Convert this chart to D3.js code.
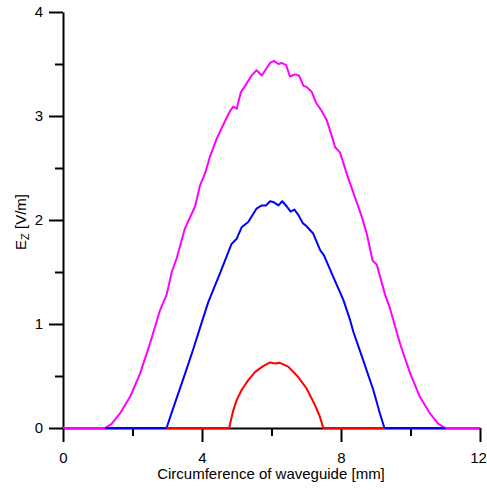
<!DOCTYPE html>
<html>
<head>
<meta charset="utf-8">
<script src="https://cdn.jsdelivr.net/npm/d3@7"></script>
<style>
  html, body { margin: 0; padding: 0; background: #fff; }
  svg { display: block; font-family: "Liberation Sans", Arial, sans-serif; }
</style>
</head>
<body>
<svg id="chart" width="487" height="490"></svg>
<script>
// ---- data ----
const magentaX = [0, 1.21, 1.40, 1.64, 1.93, 2.22, 2.50, 2.79, 2.98, 3.13, 3.27, 3.51, 3.80, 3.94, 4.09, 4.23, 4.42, 4.66, 4.81, 4.90, 5.00, 5.12, 5.24, 5.43, 5.57, 5.72, 5.96, 6.07, 6.20, 6.29, 6.42, 6.53, 6.68, 6.79, 6.92, 7.01, 7.16, 7.28, 7.44, 7.59, 7.76, 7.83, 7.97, 8.21, 8.40, 8.60, 8.74, 8.91, 9.03, 9.27, 9.41, 9.70, 9.99, 10.27, 10.56, 10.80, 11.0, 12];
const magentaY = [0, 0, 0.04, 0.14, 0.30, 0.525, 0.81, 1.13, 1.28, 1.50, 1.63, 1.92, 2.13, 2.33, 2.45, 2.61, 2.78, 2.95, 3.05, 3.09, 3.07, 3.23, 3.29, 3.39, 3.44, 3.39, 3.51, 3.53, 3.50, 3.51, 3.49, 3.38, 3.40, 3.39, 3.29, 3.28, 3.23, 3.13, 3.05, 2.96, 2.78, 2.70, 2.65, 2.40, 2.22, 2.03, 1.87, 1.61, 1.57, 1.28, 1.15, 0.81, 0.525, 0.30, 0.14, 0.04, 0, 0];

const blueX = [1.21, 2.98, 3.13, 3.51, 3.75, 3.94, 4.18, 4.52, 4.85, 5.00, 5.14, 5.33, 5.57, 5.72, 5.84, 5.96, 6.07, 6.20, 6.31, 6.44, 6.55, 6.66, 6.77, 6.90, 7.01, 7.20, 7.40, 7.51, 7.73, 8.07, 8.26, 8.35, 8.64, 8.93, 9.12, 9.25, 11.0];
const blueY = [0, 0, 0.15, 0.52, 0.76, 0.96, 1.21, 1.49, 1.77, 1.82, 1.93, 1.98, 2.11, 2.14, 2.14, 2.18, 2.17, 2.14, 2.18, 2.13, 2.08, 2.10, 2.05, 1.97, 1.94, 1.87, 1.71, 1.66, 1.49, 1.23, 1.04, 0.93, 0.65, 0.365, 0.14, 0, 0];

const redX = [2.98, 4.78, 4.90, 5.00, 5.14, 5.33, 5.53, 5.76, 5.96, 6.10, 6.24, 6.48, 6.77, 7.01, 7.25, 7.38, 7.49, 9.25];
const redY = [0, 0, 0.17, 0.27, 0.365, 0.46, 0.54, 0.595, 0.63, 0.62, 0.627, 0.59, 0.49, 0.38, 0.22, 0.12, 0, 0];

const xMajorTicks = [0, 4, 8, 12];
const xMinorTicks = [2, 6, 10];
const yMajorTicks = [0, 1, 2, 3, 4];
const yMinorTicks = [0.5, 1.5, 2.5, 3.5];

const xTitle = "Circumference of waveguide [mm]";

// ---- layout ----
const svg = d3.select("#chart");
const x = d3.scaleLinear().domain([0, 12]).range([63, 480]);
const y = d3.scaleLinear().domain([0, 4]).range([428, 12]);

// minor ticks
svg.append("g").attr("transform", `translate(0,${y(0)})`)
  .call(d3.axisBottom(x).tickValues(xMinorTicks).tickSize(8).tickSizeOuter(0).tickFormat(""))
  .call(g => g.select(".domain").remove())
  .call(g => g.selectAll("line").attr("stroke", "#000").attr("stroke-width", 2));
svg.append("g").attr("transform", `translate(${x(0)},0)`)
  .call(d3.axisLeft(y).tickValues(yMinorTicks).tickSize(8).tickSizeOuter(0).tickFormat(""))
  .call(g => g.select(".domain").remove())
  .call(g => g.selectAll("line").attr("stroke", "#000").attr("stroke-width", 2));

// major axes
const xAxis = svg.append("g").attr("transform", `translate(0,${y(0)})`)
  .call(d3.axisBottom(x).tickValues(xMajorTicks).tickSize(14).tickSizeOuter(0).tickPadding(10).tickFormat(d3.format("d")));
const yAxis = svg.append("g").attr("transform", `translate(${x(0)},0)`)
  .call(d3.axisLeft(y).tickValues(yMajorTicks).tickSize(14).tickSizeOuter(0).tickPadding(6).tickFormat(d3.format("d")));
[xAxis, yAxis].forEach(g => {
  g.selectAll(".domain").attr("stroke", "#000").attr("stroke-width", 2);
  g.selectAll("line").attr("stroke", "#000").attr("stroke-width", 2);
  g.selectAll("text").attr("font-size", 15).attr("fill", "#000")
    .attr("font-family", "'Liberation Sans', Arial, sans-serif");
});
// keep the last x label inside the window
xAxis.selectAll(".tick").filter(d => d === 12).select("text").attr("dx", -2);

// lines
const line = d3.line().x(d => x(d[0])).y(d => y(d[1]));
const series = [
  { xs: magentaX, ys: magentaY, color: "#ff00ff" },
  { xs: blueX, ys: blueY, color: "#0000ff" },
  { xs: redX, ys: redY, color: "#ff0000" }
];
series.forEach(s => {
  svg.append("path")
    .datum(s.xs.map((v, i) => [v, s.ys[i]]))
    .attr("fill", "none")
    .attr("stroke", s.color)
    .attr("stroke-width", 2)
    .attr("stroke-linejoin", "round")
    .attr("d", line);
});

// titles
svg.append("text")
  .attr("x", 271).attr("y", 479)
  .attr("text-anchor", "middle")
  .attr("font-size", 15)
  .text(xTitle);

const yt = svg.append("text")
  .attr("transform", "translate(26,222) rotate(-90)")
  .attr("text-anchor", "middle")
  .attr("font-size", 15);
yt.append("tspan").text("E");
yt.append("tspan").attr("font-size", 11).attr("dy", 3).text("Z");
yt.append("tspan").attr("dy", -3).text(" [V/m]");
</script>
</body>
</html>
